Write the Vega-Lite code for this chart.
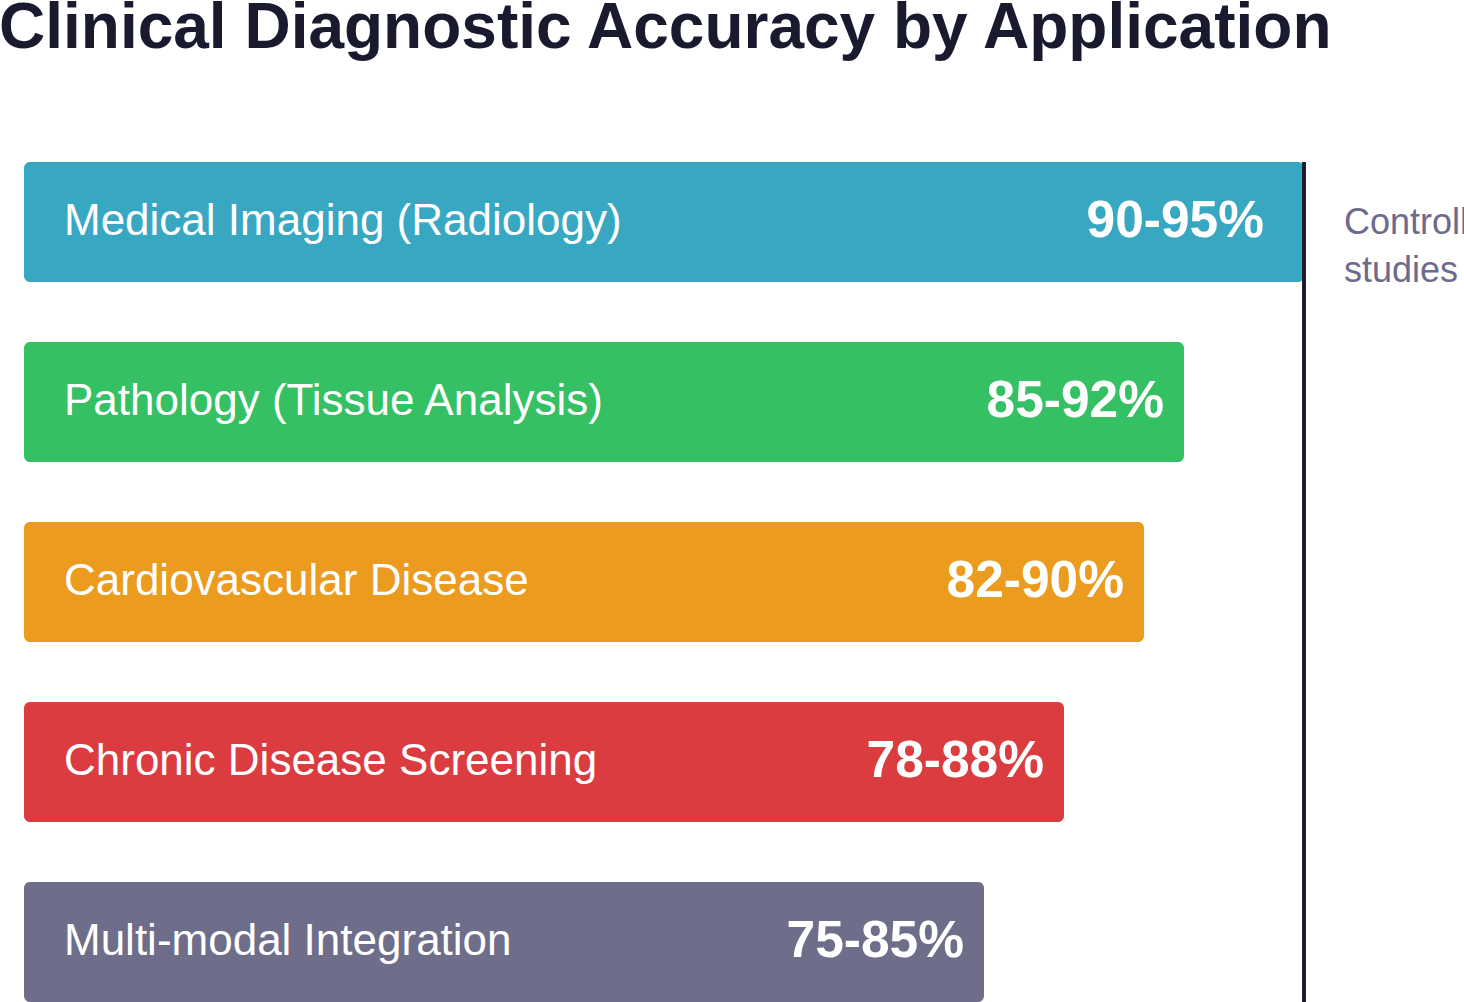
{
  "$schema": "https://vega.github.io/schema/vega-lite/v6.json",
  "width": 1440,
  "height": 840,
  "autosize": {"type": "none"},
  "padding": {"left": 24, "top": 162, "right": 0, "bottom": 0},
  "background": "white",
  "config": {"view": {"stroke": null}},
  "title": {
    "text": "Clinical Diagnostic Accuracy by Application",
    "anchor": "start",
    "font": "Liberation Sans",
    "fontSize": 64,
    "fontWeight": "bold",
    "color": "#1a1a2e",
    "dx": -25,
    "offset": 100
  },
  "data": {
    "values": [
      {"application": "Medical Imaging (Radiology)", "range": "90-95%", "bar_length": 100, "note": "Controlled\nstudies"},
      {"application": "Pathology (Tissue Analysis)", "range": "85-92%", "bar_length": 90.625, "note": null},
      {"application": "Cardiovascular Disease", "range": "82-90%", "bar_length": 87.5, "note": null},
      {"application": "Chronic Disease Screening", "range": "78-88%", "bar_length": 81.25, "note": null},
      {"application": "Multi-modal Integration", "range": "75-85%", "bar_length": 75, "note": null}
    ]
  },
  "encoding": {
    "y": {
      "field": "application",
      "type": "nominal",
      "sort": null,
      "scale": {"paddingInner": 0.3333, "paddingOuter": 0},
      "axis": null
    }
  },
  "layer": [
    {
      "mark": {"type": "bar", "cornerRadius": 6},
      "encoding": {
        "x": {"field": "bar_length", "type": "quantitative", "scale": {"domain": [0, 112.5], "nice": false, "zero": true}, "axis": null},
        "color": {
          "field": "application",
          "type": "nominal",
          "scale": {
            "domain": ["Medical Imaging (Radiology)", "Pathology (Tissue Analysis)", "Cardiovascular Disease", "Chronic Disease Screening", "Multi-modal Integration"],
            "range": ["#38a8c2", "#35c163", "#eb9b1e", "#db3c40", "#6e6e8a"]
          },
          "legend": null
        }
      }
    },
    {
      "mark": {"type": "text", "align": "left", "baseline": "middle", "dx": 40, "font": "Liberation Sans", "fontSize": 44, "color": "white"},
      "encoding": {
        "x": {"datum": 0, "type": "quantitative"},
        "text": {"field": "application"}
      }
    },
    {
      "transform": [{"filter": "datum.bar_length >= 100"}],
      "mark": {"type": "text", "align": "right", "baseline": "middle", "dx": -40, "font": "Liberation Sans", "fontSize": 51.5, "fontWeight": "bold", "color": "white"},
      "encoding": {
        "x": {"field": "bar_length", "type": "quantitative"},
        "text": {"field": "range"}
      }
    },
    {
      "transform": [{"filter": "datum.bar_length < 100"}],
      "mark": {"type": "text", "align": "right", "baseline": "middle", "dx": -20, "font": "Liberation Sans", "fontSize": 51.5, "fontWeight": "bold", "color": "white"},
      "encoding": {
        "x": {"field": "bar_length", "type": "quantitative"},
        "text": {"field": "range"}
      }
    },
    {
      "mark": {"type": "rule", "color": "#1a1a2e", "strokeWidth": 3},
      "encoding": {"x": {"datum": 100, "type": "quantitative"}, "y": null}
    },
    {
      "transform": [{"filter": "datum.note != null"}],
      "mark": {"type": "text", "align": "left", "baseline": "middle", "dx": 40, "dy": 1, "lineBreak": "\n", "lineHeight": 48, "font": "Liberation Sans", "fontSize": 36, "color": "#6e6a8e"},
      "encoding": {
        "x": {"field": "bar_length", "type": "quantitative"},
        "text": {"field": "note"}
      }
    }
  ]
}
